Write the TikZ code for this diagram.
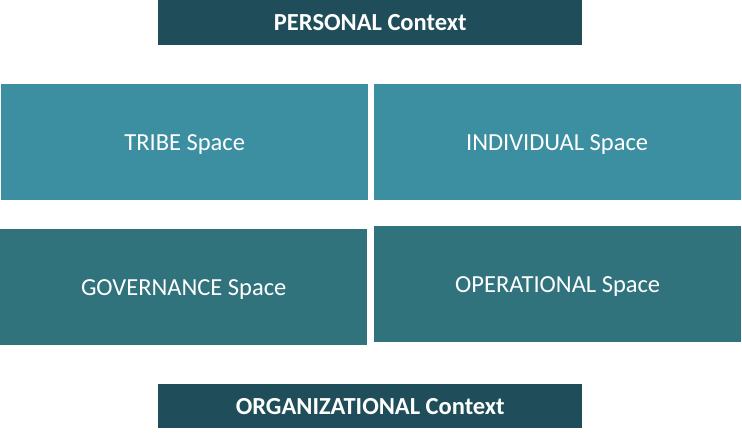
\documentclass[tikz,border=0pt]{standalone}
\usepackage{fontspec}
\setmainfont{Carlito}
\usepackage{tikz}
\usetikzlibrary{positioning}

\definecolor{ctxdark}{HTML}{1F4E5A}
\definecolor{spacetop}{HTML}{3C8FA0}
\definecolor{spacelow}{HTML}{31737D}

\begin{document}
\begin{tikzpicture}[
  x=1pt, y=-1pt,
  context/.style = {fill=ctxdark, text=white, inner sep=0pt, minimum width=424pt, minimum height=45pt, font=\fontsize{24.5}{28}\selectfont\bfseries, anchor=north west},
  space/.style   = {text=white, inner sep=0pt, text depth=0pt, minimum width=367pt, minimum height=116pt, font=\fontsize{24.5}{28}\selectfont, anchor=north west}
]

  \useasboundingbox (0,0) rectangle (742,437);

  % personal context on top
  \node[context] (personal) at (158,0) {PERSONAL Context};

  % upper row of spaces
  \node[space, fill=spacetop] (tribe) at (1,84) {TRIBE Space};
  \node[space, fill=spacetop, right=5pt of tribe.north east, anchor=north west] (individual) {INDIVIDUAL Space};

  % lower row of spaces
  \node[space, fill=spacelow] (governance) at (0,229) {GOVERNANCE Space};
  \node[space, fill=spacelow] (operational) at (374,226) {OPERATIONAL Space};

  % organizational context at the bottom
  \node[context, minimum height=44pt] (organizational) at (158,384) {ORGANIZATIONAL Context};

\end{tikzpicture}
\end{document}
